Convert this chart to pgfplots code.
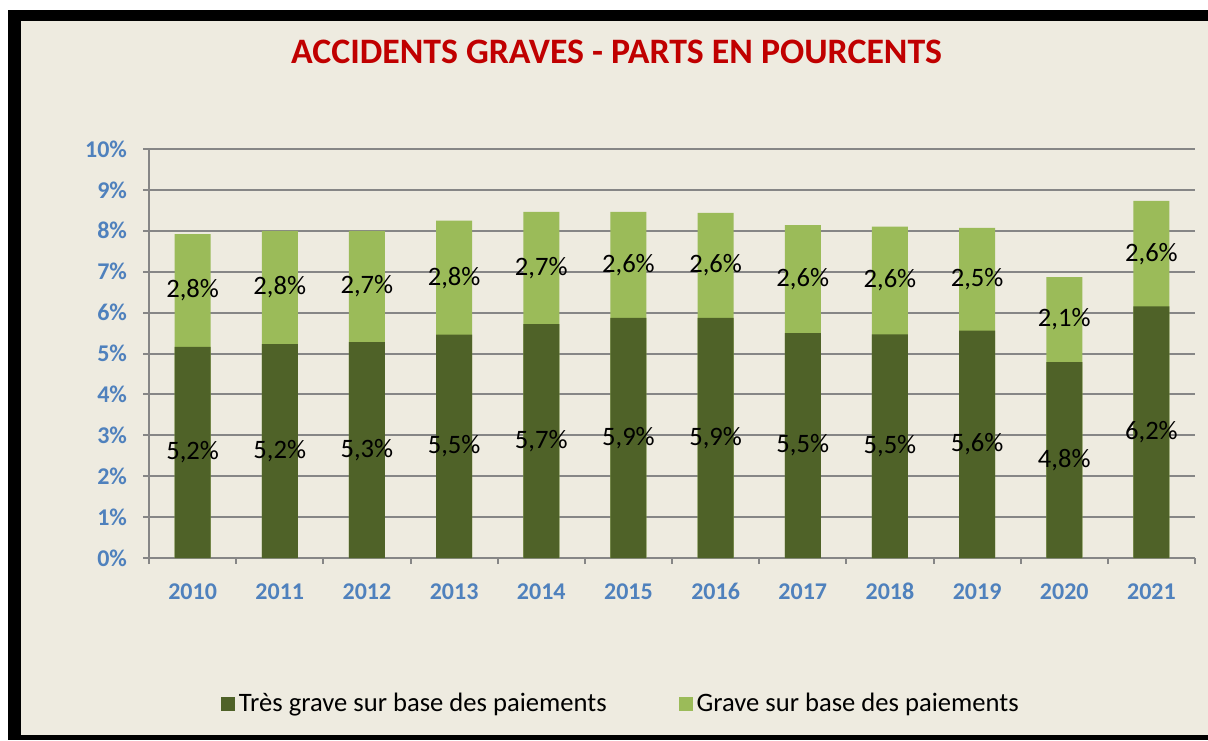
\documentclass[border=0pt]{standalone}
\usepackage{pgfplots}
\usepackage{pgfplotstable}
\pgfplotsset{compat=1.18}
\usepackage{fontspec}
\setmainfont{Carlito}
\definecolor{darkgreen}{RGB}{79,98,40}
\definecolor{lightgreen}{RGB}{155,187,89}
\definecolor{bgbeige}{RGB}{238,235,224}
\definecolor{gridgray}{RGB}{134,134,134}
\definecolor{tickblue}{RGB}{79,129,189}
\definecolor{titlered}{RGB}{192,0,0}
\pgfplotstableread{
x dark light dlab llab
0 5.16 2.76 5.2 2.8
1 5.23 2.77 5.2 2.8
2 5.28 2.72 5.3 2.7
3 5.46 2.79 5.5 2.8
4 5.72 2.74 5.7 2.7
5 5.87 2.59 5.9 2.6
6 5.87 2.57 5.9 2.6
7 5.50 2.64 5.5 2.6
8 5.47 2.63 5.5 2.6
9 5.56 2.51 5.6 2.5
10 4.79 2.08 4.8 2.1
11 6.15 2.58 6.2 2.6
}\data
\begin{document}
\begin{tikzpicture}
\fill[white] (0pt,0pt) rectangle (604pt,370pt);
\fill[black] (4pt,0pt) rectangle (604pt,365pt);
\fill[bgbeige] (10.5pt,2.5pt) rectangle (604pt,359.5pt);
\begin{axis}[
  at={(74.5pt,91pt)}, anchor=south west,
  scale only axis, width=523pt, height=204.5pt,
  xmin=-0.5, xmax=11.5, ymin=0, ymax=10,
  axis x line*=bottom, axis y line*=left,
  axis line style={draw=gridgray, line width=1pt},
  ymajorgrids, grid style={draw=gridgray, line width=1pt},
  tick style={draw=gridgray, line width=1pt},
  tick align=outside, major tick length=3pt,
  /pgf/number format/assume math mode=true,
  ytick={0,1,...,10},
  yticklabel={\pgfmathprintnumber{\tick}\%},
  yticklabel style={font=\bfseries\fontsize{12}{14}\selectfont, text=tickblue, xshift=-4.5pt},
  xtick={-0.5,0.5,...,11.5},
  xticklabels={,,,,,,,,,,,,,},
  extra x ticks={0,1,...,11},
  extra x tick labels={2010,2011,2012,2013,2014,2015,2016,2017,2018,2019,2020,2021},
  extra x tick style={major tick length=0pt, xticklabel style={font=\bfseries\fontsize{12}{14}\selectfont, text=tickblue, text height=8pt, text depth=0pt, yshift=-9pt}},
  title={ACCIDENTS GRAVES - PARTS EN POURCENTS},
  title style={at={(axis description cs:0.447,1.207)}, anchor=center, font=\bfseries\fontsize{17.9}{20}\selectfont, text=titlered},
  legend columns=2,
  legend image code/.code={\fill[#1] (0pt,-3.5pt) rectangle (7pt,3.5pt);},
  legend style={at={(axis description cs:0.452,-0.357)}, anchor=center, draw=none, fill=none,
    font=\fontsize{13.3}{16}\selectfont, /tikz/every even column/.append style={column sep=34pt}},
  every node near coord/.append style={anchor=center, font=\fontsize{13.3}{15}\selectfont, text=black},
]
\addlegendimage{fill=darkgreen, draw=none}
\addlegendentry{Très grave sur base des paiements}
\addlegendimage{fill=lightgreen, draw=none}
\addlegendentry{Grave sur base des paiements}
\addplot[ybar, bar width=18pt, bar shift=0pt, fill=lightgreen, draw=none, forget plot]
  table[x=x, y expr=\thisrow{dark}+\thisrow{light}] {\data};
\addplot[ybar, bar width=18pt, bar shift=0pt, fill=darkgreen, draw=none, forget plot]
  table[x=x, y=dark] {\data};
\addplot[draw=none, mark=none, forget plot, point meta=explicit,
  nodes near coords={\pgfmathprintnumber[fixed,fixed zerofill,precision=1,use comma]{\pgfplotspointmeta}\%}]
  table[x=x, y expr=\thisrow{dark}/2, meta=dlab] {\data};
\addplot[draw=none, mark=none, forget plot, point meta=explicit,
  nodes near coords={\pgfmathprintnumber[fixed,fixed zerofill,precision=1,use comma]{\pgfplotspointmeta}\%}]
  table[x=x, y expr=\thisrow{dark}+\thisrow{light}/2, meta=llab] {\data};
\end{axis}
\pgfresetboundingbox
\path[use as bounding box] (0pt,0pt) rectangle (604pt,370pt);
\end{tikzpicture}
\end{document}
